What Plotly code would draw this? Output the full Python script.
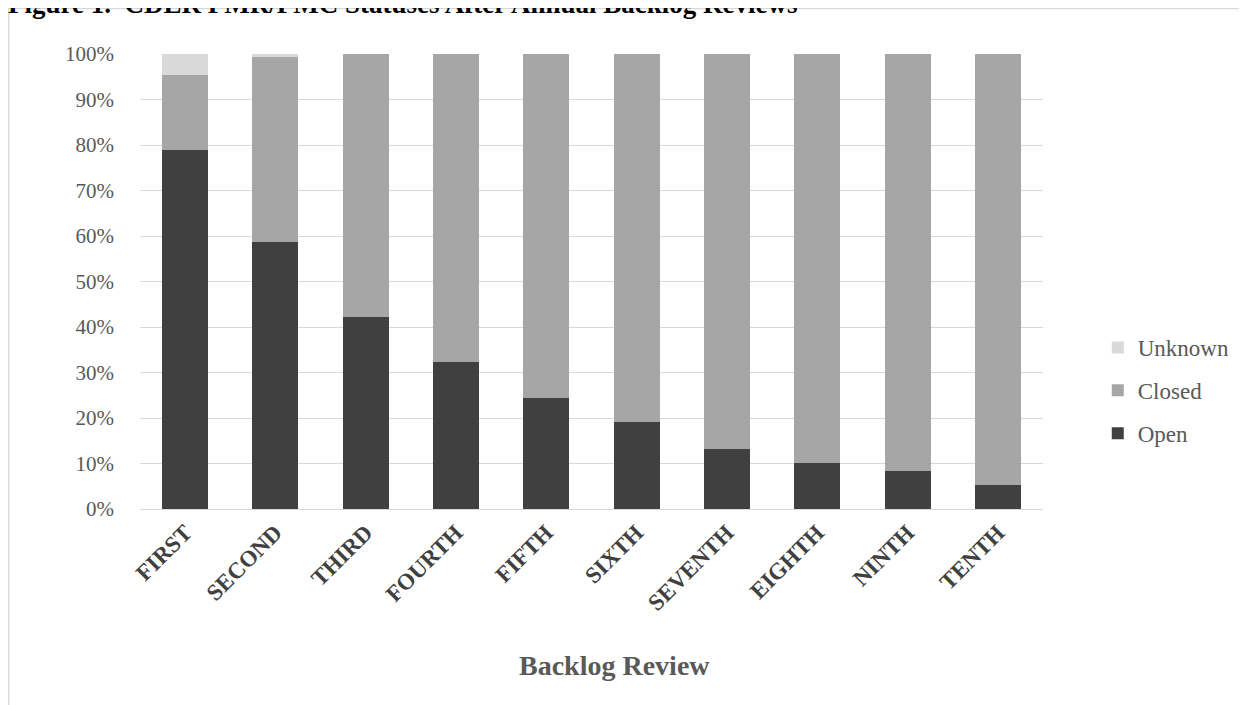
import plotly.graph_objects as go

categories = ["FIRST", "SECOND", "THIRD", "FOURTH", "FIFTH", "SIXTH", "SEVENTH", "EIGHTH", "NINTH", "TENTH"]
open_pct = [78.9, 58.7, 42.2, 32.2, 24.3, 19.1, 13.2, 10.1, 8.3, 5.3]
closed_pct = [16.5, 40.6, 57.8, 67.8, 75.7, 80.9, 86.8, 89.9, 91.7, 94.7]
unknown_pct = [4.6, 0.7, 0, 0, 0, 0, 0, 0, 0, 0]
y_ticks = [0, 10, 20, 30, 40, 50, 60, 70, 80, 90, 100]
y_tick_labels = [f"{v}%" for v in y_ticks]

# figure sized for the 8px default page margin
OFF = 8
W, H = 1247 - OFF, 705 - OFF
L, T = 140 - OFF, 54 - OFF
PLOT_R, PLOT_B = 1047 - OFF, 509 - OFF
R, B = W - PLOT_R, H - PLOT_B
PW, PH = W - L - R, H - T - B

def px_x(p):  # p in figure pixels
    return (p - L) / PW

def px_y(p):
    return (PLOT_B - p) / PH

SERIF = "Liberation Serif"

fig = go.Figure()
series = [("Open", open_pct, "#404040", 3), ("Closed", closed_pct, "#a6a6a6", 2), ("Unknown", unknown_pct, "#d9d9d9", 1)]
for name, vals, col, rank in series:
    fig.add_trace(go.Bar(x=categories, y=vals, name=name, marker=dict(color=col, line=dict(width=0)),
                         legendgroup=name, legendrank=rank))

fig.update_layout(
    width=W, height=H,
    margin=dict(l=L, r=R, t=T, b=B),
    barmode="stack", bargap=0.49,
    plot_bgcolor="white", paper_bgcolor="white",
    font=dict(family=SERIF, color="#595959"),
    showlegend=True,
    legend=dict(x=px_x(1102 - OFF), y=px_y(318), xanchor="left", yanchor="top",
                traceorder="grouped", tracegroupgap=10,
                font=dict(family=SERIF, size=23, color="#595959"),
                itemwidth=30, bgcolor="rgba(0,0,0,0)"),
    xaxis=dict(tickangle=-45, tickfont=dict(family=SERIF, size=23, color="#404040", weight="bold"),
               showline=True, linecolor="#d9d9d9", linewidth=1, ticks="", showgrid=False),
    yaxis=dict(range=[0, 100], tickvals=y_ticks, ticktext=y_tick_labels,
               tickfont=dict(family=SERIF, size=21, color="#595959"),
               showgrid=True, gridcolor="#d9d9d9", gridwidth=1, zeroline=False,
               ticks="", ticklabelstandoff=25),
)

fig.add_annotation(text="<b>Backlog Review</b>", x=px_x(617 - OFF), y=px_y(665 - OFF), xref="paper", yref="paper",
                   xanchor="center", yanchor="middle", showarrow=False,
                   font=dict(family=SERIF, size=28, color="#595959"))

fig.add_annotation(text="<b>Figure 1.  CDER PMR/PMC Statuses After Annual Backlog Reviews</b>",
                   x=px_x(-3), y=px_y(13), xref="paper", yref="paper",
                   xanchor="left", yanchor="bottom", showarrow=False,
                   font=dict(family=SERIF, size=27, color="black"))

fig.add_shape(type="rect", xref="paper", yref="paper",
              x0=px_x(0), x1=px_x(W + 20), y0=px_y(0.5), y1=px_y(H + 20),
              line=dict(color="#d9d9d9", width=1.5), fillcolor="rgba(0,0,0,0)", layer="below")

fig.write_html("out.html")
